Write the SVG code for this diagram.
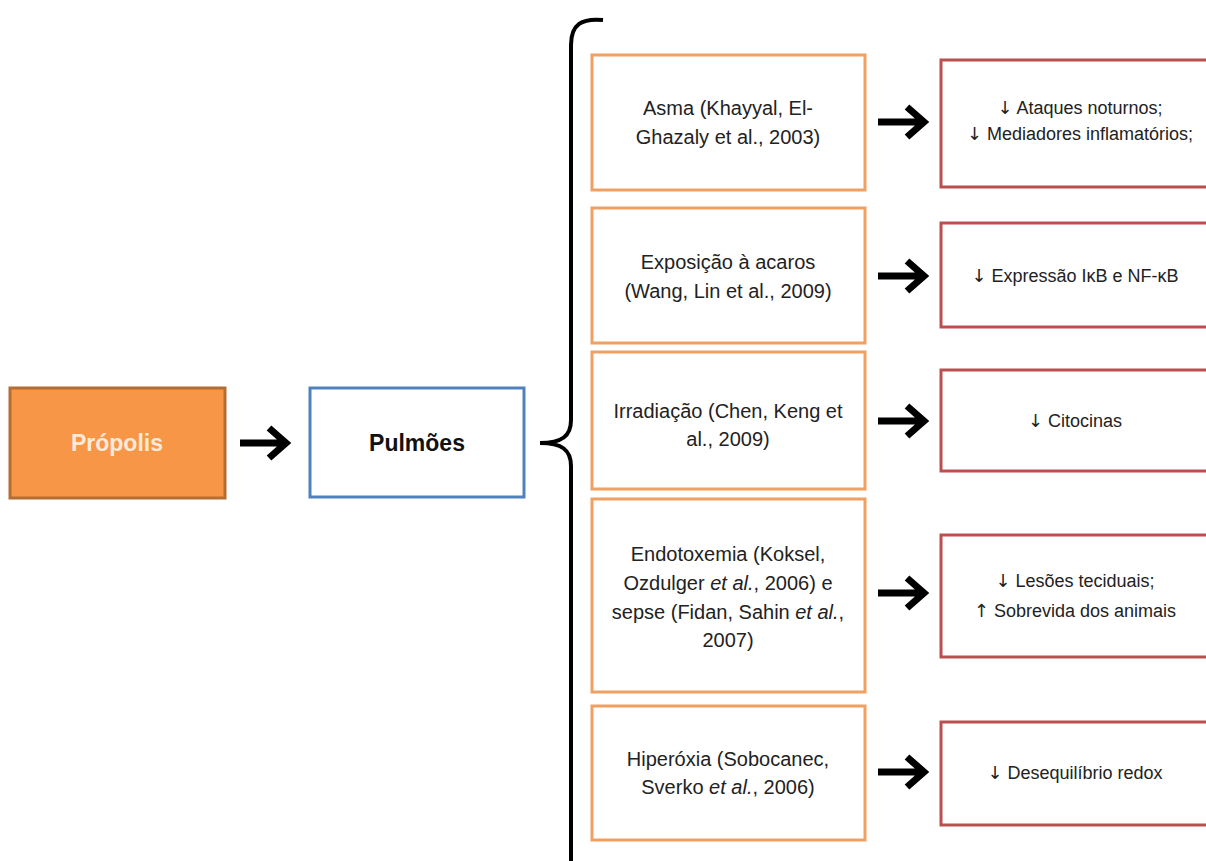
<svg xmlns="http://www.w3.org/2000/svg" width="1206" height="861" viewBox="0 0 1206 861">
<style>
.o{fill:#fff;stroke:#F0A060;stroke-width:3}
.r{fill:#fff;stroke:#B9504F;stroke-width:3}
.t{font-family:"Liberation Sans",Arial,sans-serif;font-size:20px;fill:#222;text-anchor:middle}
.s{font-family:"Liberation Sans",Arial,sans-serif;font-size:18px;fill:#222;text-anchor:middle}
.g{font-family:"DejaVu Sans",sans-serif;font-size:18px}
.b{font-family:"Liberation Sans",Arial,sans-serif;font-size:23px;font-weight:bold;text-anchor:middle}
.a{fill:none;stroke:#000;stroke-width:7;stroke-linejoin:miter}
</style>
<defs>
<g id="arr"><path class="a" d="M0,0 H45 M29,-15 L46,0 L29,15"/></g>
</defs>
<rect width="1206" height="861" fill="#fff"/>
<g id="propolis"><rect x="10" y="388" width="215" height="110" fill="#F79646" stroke="#B66D31" stroke-width="3"/><text class="b" x="117" y="451" fill="#FDEADA">Própolis</text></g>
<g id="pulmoes"><rect x="310" y="388" width="214" height="109" fill="#fff" stroke="#4F81BD" stroke-width="3"/><text class="b" x="417" y="451" fill="#111">Pulmões</text></g>
<g id="connectors">
<use href="#arr" x="240" y="443"/>
<path d="M603,20 C582,18 571,24 571,45 L571,420 C571,436 562,443 540,443 C562,443 571,450 571,466 L571,861" fill="none" stroke="#000" stroke-width="4"/>
<use href="#arr" x="878" y="122"/>
<use href="#arr" x="878" y="276"/>
<use href="#arr" x="878" y="421"/>
<use href="#arr" x="878" y="593"/>
<use href="#arr" x="878" y="772"/>
</g>
<g id="asma"><rect class="o" x="592" y="55" width="273" height="135"/><text class="t" x="728" y="115">Asma (Khayyal, El-</text><text class="t" x="728" y="144">Ghazaly et al., 2003)</text></g>
<g id="acaros"><rect class="o" x="592" y="208" width="273" height="135"/><text class="t" x="728" y="269">Exposição à acaros</text><text class="t" x="728" y="298">(Wang, Lin et al., 2009)</text></g>
<g id="irradiacao"><rect class="o" x="592" y="352" width="273" height="137"/><text class="t" x="728" y="418">Irradiação (Chen, Keng et</text><text class="t" x="728" y="446">al., 2009)</text></g>
<g id="endotoxemia"><rect class="o" x="592" y="499" width="273" height="193"/><text class="t" x="728" y="561">Endotoxemia (Koksel,</text><text class="t" x="728" y="590">Ozdulger <tspan font-style="italic">et al.</tspan>, 2006) e</text><text class="t" x="728" y="619">sepse (Fidan, Sahin <tspan font-style="italic">et al.</tspan>,</text><text class="t" x="728" y="647">2007)</text></g>
<g id="hiperoxia"><rect class="o" x="592" y="706" width="273" height="134"/><text class="t" x="728" y="766">Hiperóxia (Sobocanec,</text><text class="t" x="728" y="794">Sverko <tspan font-style="italic">et al.</tspan>, 2006)</text></g>
<g id="r1"><rect class="r" x="941" y="60" width="280" height="127"/><text class="s" x="1080" y="114"><tspan class="g">↓</tspan> Ataques noturnos;</text><text class="s" x="1080" y="140"><tspan class="g">↓</tspan> Mediadores inflamatórios;</text></g>
<g id="r2"><rect class="r" x="941" y="223" width="280" height="104"/><text class="s" x="1075" y="282"><tspan class="g">↓</tspan> Expressão IκB e NF-κB</text></g>
<g id="r3"><rect class="r" x="941" y="370" width="280" height="101"/><text class="s" x="1075" y="427"><tspan class="g">↓</tspan> Citocinas</text></g>
<g id="r4"><rect class="r" x="941" y="535" width="280" height="122"/><text class="s" x="1075" y="587"><tspan class="g">↓</tspan> Lesões teciduais;</text><text class="s" x="1075" y="617"><tspan class="g">↑</tspan> Sobrevida dos animais</text></g>
<g id="r5"><rect class="r" x="941" y="722" width="280" height="103"/><text class="s" x="1075" y="779"><tspan class="g">↓</tspan> Desequilíbrio redox</text></g>
</svg>
